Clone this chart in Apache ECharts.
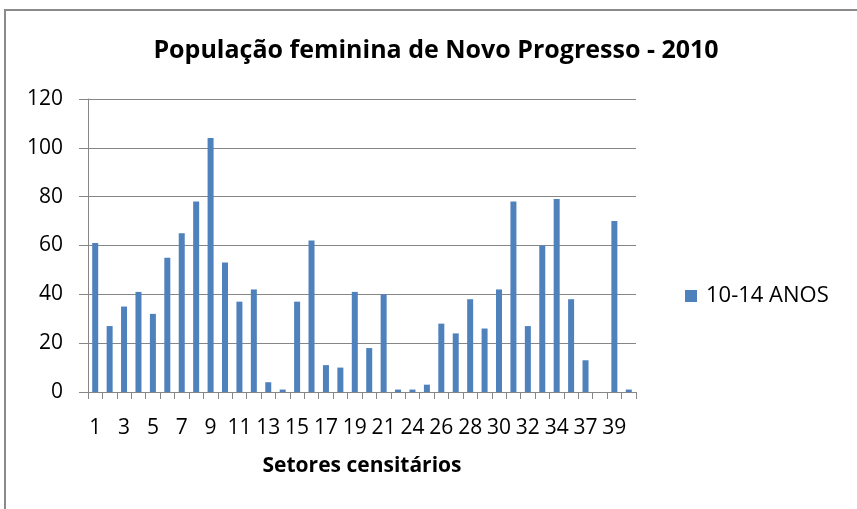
<!DOCTYPE html>
<html>
<head>
<meta charset="utf-8">
<script src="https://cdn.jsdelivr.net/npm/echarts@6/dist/echarts.min.js"></script>
<style>
  html, body { margin: 0; padding: 0; background: #fff; }
  #chart { width: 857px; height: 509px; }
</style>
</head>
<body>
<div id="chart"></div>
<script>
// setores censitários (x axis categories)
var setores = ['1','2','3','4','5','6','7','8','9','10','11','12','13','14','15','16','17','18','19','20','21',
  '22','24','25','26','27','28','29','30','31','32','33','34','35','37','38','39','40'];
// 10-14 anos, mulheres
var anos10a14 = [61, 27, 35, 41, 32, 55, 65, 78, 104, 53, 37, 42, 4, 1, 37, 62, 11, 10, 41, 18, 40,
  1, 1, 3, 28, 24, 38, 26, 42, 78, 27, 60, 79, 38, 13, 0, 70, 1];
var yTicks = { min: 0, max: 120, interval: 20 };

var fontFam = '"Open Sans", Lato, sans-serif';
var myChart = echarts.init(document.getElementById('chart'));
var option = {
  animation: false,
  graphic: [{
    type: 'rect',
    silent: true,
    z: -10,
    shape: { x: 5, y: 10, width: 900, height: 600 },
    style: { fill: 'none', stroke: '#8a8a8a', lineWidth: 2 }
  }],
  title: {
    text: 'População feminina de Novo Progresso - 2010',
    left: 431,
    top: 33,
    textAlign: 'center',
    textStyle: { fontFamily: fontFam, fontWeight: 'bold', fontSize: 25, color: '#000' }
  },
  legend: {
    data: ['10-14 ANOS'],
    left: 680,
    top: 280,
    itemWidth: 12,
    itemHeight: 12,
    itemGap: 6,
    icon: 'rect',
    textStyle: { fontFamily: fontFam, fontSize: 22, color: '#000', padding: [0, 0, 0, 4] }
  },
  grid: { left: 88, right: 221, top: 99, bottom: 117, containLabel: false },
  xAxis: {
    type: 'category',
    data: setores,
    name: 'Setores censitários',
    nameLocation: 'middle',
    nameGap: 64,
    nameTextStyle: { fontFamily: fontFam, fontWeight: 'bold', fontSize: 21, color: '#000' },
    axisLine: { lineStyle: { color: '#868686', width: 1 } },
    axisTick: { show: true, interval: 0, length: 7, alignWithLabel: false, lineStyle: { color: '#868686' } },
    axisLabel: { interval: 1, margin: 26, fontFamily: fontFam, fontSize: 21, color: '#000' }
  },
  yAxis: {
    type: 'value',
    min: yTicks.min,
    max: yTicks.max,
    interval: yTicks.interval,
    axisLine: { show: true, lineStyle: { color: '#868686', width: 1 } },
    axisTick: { show: true, length: 9, lineStyle: { color: '#868686' } },
    axisLabel: { margin: 25, fontFamily: fontFam, fontSize: 21, color: '#000' },
    splitLine: { show: true, lineStyle: { color: '#868686', width: 1 } }
  },
  series: [{
    name: '10-14 ANOS',
    type: 'bar',
    data: anos10a14,
    barWidth: 6,
    itemStyle: { color: '#4f81bd' }
  }]
};
myChart.setOption(option);
</script>
</body>
</html>
